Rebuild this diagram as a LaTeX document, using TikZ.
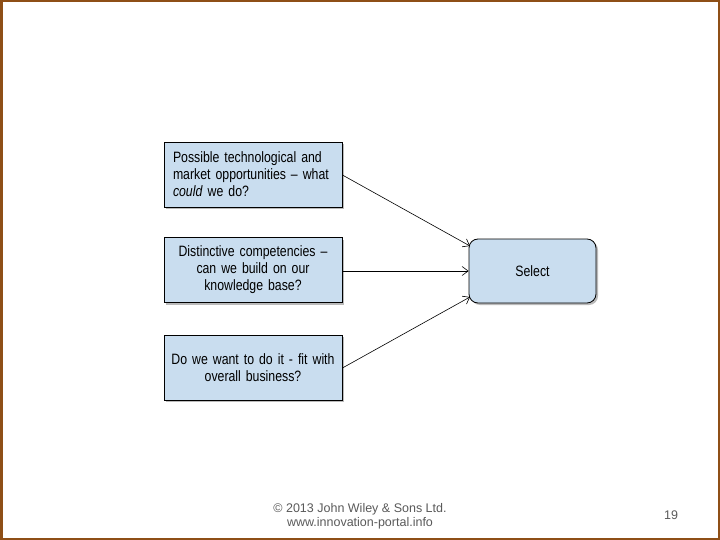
\documentclass[tikz,border=0pt]{standalone}
\usepackage{fontspec}
\setmainfont{Liberation Sans}
\newfontfamily\narrowfont[FakeStretch=0.82,Ligatures=TeX]{Liberation Sans}
\usetikzlibrary{arrows.meta,shadows}
\definecolor{boxfill}{HTML}{C9DDEF}
\definecolor{frame}{HTML}{8E4F17}
\definecolor{foot}{HTML}{5A5A5A}
\tikzset{
  qbox/.style={draw=black, line width=0.8pt, fill=boxfill, minimum width=178pt, minimum height=65pt,
    inner sep=0pt, font=\narrowfont\fontsize{15pt}{17pt}\selectfont, text width=160pt,
    drop shadow={shadow xshift=2pt, shadow yshift=-2pt, fill=black!45, opacity=0.6}},
  selbox/.style={draw=black, line width=0.8pt, fill=boxfill, rounded corners=9pt, minimum width=127pt,
    minimum height=64pt, font=\narrowfont\fontsize{15pt}{17pt}\selectfont,
    drop shadow={shadow xshift=2pt, shadow yshift=-2pt, fill=black!45, opacity=0.6}},
  conn/.style={draw=black, line width=0.6pt, -{Straight Barb[length=6pt,width=9pt]}},
  foottxt/.style={font=\fontsize{12.5pt}{14pt}\selectfont, text=foot, align=center}
}
\begin{document}
\begin{tikzpicture}[x=1pt,y=-1pt]
\useasboundingbox (0,0) rectangle (720,540);
\fill[white] (0,0) rectangle (720,540);
\draw[frame, line width=2.5pt] (1.25,1.25) rectangle (718.75,538.75);
\node[qbox, align=left] (b1) at (253,174.5) {Possible technological and market opportunities – what \textit{could} we do?};
\node[qbox, align=center, text width=172pt] (b2) at (253,270) {Distinctive competencies –\\ can we build on our\\ knowledge base?};
\node[qbox, align=center, text width=172pt] (b3) at (253,367.5) {Do we want to do it - fit with\\ overall business?};
\node[selbox] (s) at (532.5,271) {Select};
\coordinate (e1) at (470,246);
\coordinate (e3) at (470,297);
\draw[conn] (b1.east |- 0,175) -- (e1);
\draw[conn] (b2.east |- 0,271) -- (s.west |- 0,271);
\draw[conn] (b3.east |- 0,368) -- (e3);
\node[foottxt] (f) at (360,516) {\copyright\ 2013 John Wiley \& Sons Ltd.\\ www.innovation-portal.info};
\node[foottxt] (p) at (671,515) {19};
\end{tikzpicture}
\end{document}
